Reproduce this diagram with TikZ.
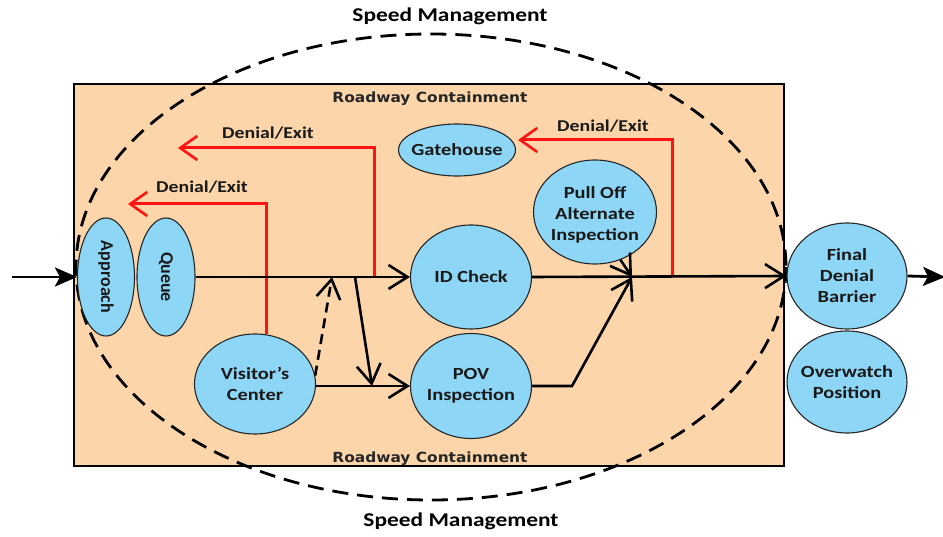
\documentclass[tikz,border=0pt]{standalone}
\usepackage{fontspec}
\setmainfont{Carlito}[FakeStretch=1.2]
\newfontfamily\plainfont{Carlito}
\newfontfamily\rcfont{DejaVu Sans}[FakeStretch=1.1]
\usetikzlibrary{shapes.geometric,arrows.meta}

\definecolor{peach}{RGB}{252,213,170}
\definecolor{sky}{RGB}{142,214,245}
\definecolor{exitred}{RGB}{250,20,20}

\tikzset{
  blob/.style={ellipse, draw=black!85, line width=1.1pt, fill=sky, inner sep=0pt},
  lbl/.style={font=\bfseries\fontsize{17}{21}\selectfont, align=center, text=black!90, inner sep=0pt},
  vlbl/.style={font=\plainfont\bfseries\fontsize{18}{20}\selectfont, rotate=-90, text=black!90, inner sep=0pt},
  exitlbl/.style={font=\bfseries\fontsize{16.5}{20}\selectfont, text=black!90, inner sep=0pt},
  zonelbl/.style={font=\bfseries\fontsize{19.5}{22}\selectfont, text=black, inner sep=0pt},
  roadlbl/.style={font=\rcfont\bfseries\fontsize{14}{16}\selectfont, text=black!85, inner sep=0pt},
  flow/.style={line width=2.6pt, -{Straight Barb[length=19pt,width=24pt,line width=2.6pt]}},
  flowdash/.style={flow, dash pattern=on 10pt off 6pt},
  exitflow/.style={draw=exitred, line width=3pt, -{Straight Barb[length=17pt,width=24pt,line width=2.6pt]}},
  endflow/.style={line width=2.8pt, -{Stealth[length=22pt,width=19pt,inset=5pt]}},
}

\begin{document}
\begin{tikzpicture}[x=1pt, y=-1pt]
\useasboundingbox (0,0) rectangle (943,537);

% containment area and speed-management zone
\draw[line width=2.8pt, fill=peach] (74,84) rectangle (784,466);
\draw[line width=2.8pt, dash pattern=on 16pt off 9pt] (431,267) ellipse [x radius=355, y radius=233];

\node[zonelbl] (smtop) at (450,16) {Speed Management};
\node[zonelbl] (smbot) at (461,521) {Speed Management};
\node[roadlbl] (rctop) at (430,99) {Roadway Containment};
\node[roadlbl] (rcbot) at (430,459) {Roadway Containment};

% stations
\node[blob, minimum width=57pt, minimum height=118pt] (app) at (106,277) {};
\node[vlbl] (app-t) at (app) {Approach};
\node[blob, minimum width=58pt, minimum height=118pt] (que) at (166,277) {};
\node[vlbl] (que-t) at (que) {Queue};
\node[blob, minimum width=121pt, minimum height=100pt] (vc) at (255,384) {};
\node[lbl] (vc-t) at (vc) {Visitor’s\\Center};
\node[blob, minimum width=121pt, minimum height=104pt] (idc) at (471,277) {};
\node[lbl] (idc-t) at (idc) {ID Check};
\node[blob, minimum width=121pt, minimum height=105pt] (pov) at (471,386) {};
\node[lbl] (pov-t) at (pov) {POV\\Inspection};
\node[blob, minimum width=123pt, minimum height=104pt] (pull) at (595,212) {};
\node[lbl] (pull-t) at ([yshift=-3pt]pull.center) {Pull Off\\Alternate\\Inspection};
\node[blob, minimum width=117pt, minimum height=52pt] (gate) at (457,150) {};
\node[lbl] (gate-t) at (gate) {Gatehouse};
\node[blob, minimum width=120pt, minimum height=106pt] (fdb) at (847,276) {};
\node[lbl] (fdb-t) at (fdb) {Final\\Denial\\Barrier};
\node[blob, minimum width=120pt, minimum height=102pt] (ow) at (847,382) {};
\node[lbl] (ow-t) at (ow) {Overwatch\\Position};

% junction points
\coordinate (in) at (12,277);
\coordinate (out) at (945,277);
\coordinate (j1) at (332,277);
\coordinate (j2) at (355,277);
\coordinate (j3) at (372,386);
\coordinate (r2) at (374,277);
\coordinate (m) at (632,277);
\coordinate (k1) at (572,386);
\coordinate (r3) at (672,277);
\coordinate (r1tip) at (128,204);
\coordinate (r2tip) at (178,148);
\coordinate (r3tip) at (518,140);

% denial / exit routes
\draw[exitflow] (vc.77) |- (r1tip);
\draw[exitflow] (r2) |- (r2tip);
\draw[exitflow] (r3) |- (r3tip);
\node[exitlbl] (ex1) at (202,187) {Denial/Exit};
\node[exitlbl] (ex2) at (268,133) {Denial/Exit};
\node[exitlbl] (ex3) at (603,126) {Denial/Exit};

% main traffic flow
\draw[endflow] (in) -- (app.west);
\draw[flow] (que.east) -- (idc.west);
\draw[flow] (idc.east) -- (fdb.west);
\draw[endflow] (fdb.east) -- (out);
\draw[flow] (vc.east |- pov.west) -- (pov.west);
\draw[flowdash] (vc.8) -- (j1);
\draw[flow] (j2) -- (j3);
\draw[flow] (pov.east) -- (k1) -- (m);
\draw[flow] (pull.-62) -- (m);
\end{tikzpicture}
\end{document}
